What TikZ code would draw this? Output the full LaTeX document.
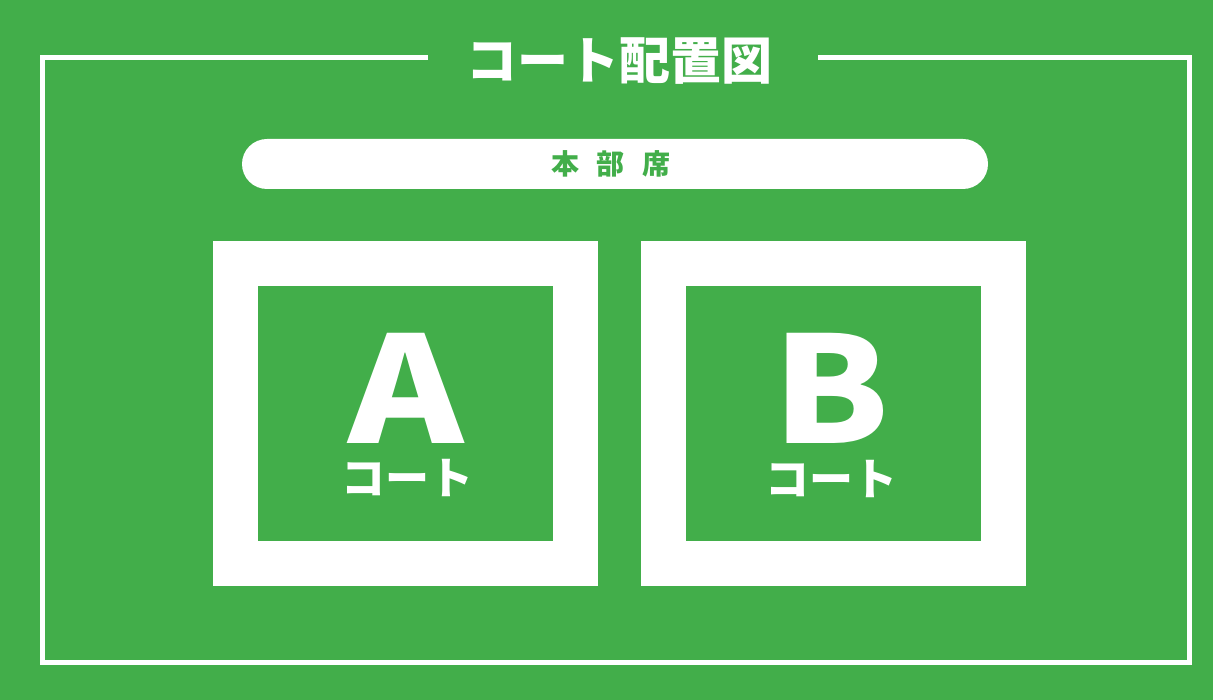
\documentclass[tikz,border=0pt]{standalone}
\usepackage{fontspec}
\newfontfamily\jp{Noto Sans CJK JP Black}
\definecolor{turf}{HTML}{42AE4A}
\begin{document}
\begin{tikzpicture}[x=1pt,y=-1pt]
\tikzset{
  frameline/.style={draw=white,line width=5pt},
  courtouter/.style={fill=white,minimum width=385pt,minimum height=345pt,inner sep=0pt,outer sep=0pt},
  courtinner/.style={fill=turf,minimum width=295pt,minimum height=254pt,inner sep=0pt,outer sep=0pt},
  bigletter/.style={text=white,font=\jp\fontsize{148}{148}\selectfont,inner sep=0pt,anchor=base,text height=0.74em,text depth=0pt},
  courtlabel/.style={text=white,font=\jp\fontsize{44}{44}\selectfont,inner sep=0pt,anchor=base,text height=0.8em,text depth=0.06em},
}
\fill[turf] (0,0) rectangle (1213,700);
\useasboundingbox (0,0) rectangle (1213,700);
% frame
\coordinate (tl) at (428,57.5);
\coordinate (tr) at (818,57.5);
\draw[frameline] (tl) -- (42.5,57.5) -- (42.5,662) -- (1189.5,662) -- (1189.5,57.5) -- (tr);
\node[text=white,font=\jp\fontsize{51}{51}\selectfont,inner sep=0pt] (title) at (619,61) {コート配置図};
% headquarters bar
\node[fill=white,rounded corners=25pt,minimum width=746pt,minimum height=50pt,inner sep=0pt] (hq) at (615,164) {};
\node[text=turf,font=\jp\fontsize{28}{28}\selectfont,inner sep=0pt] (hqlabel) at (611,164) {本\hspace{18pt}部\hspace{18pt}席};
% courts
\node[courtouter] (courtA) at (405.5,413.5) {};
\node[courtinner] (innerA) at (courtA) {};
\node[bigletter] (letterA) at (406.5,443) {\scalebox{1.18}[1]{A}};
\node[courtlabel] (labelA) at (407,494.5) {コート};
\node[courtouter] (courtB) at (833,413.5) {};
\node[courtinner] (innerB) at (courtB) {};
\node[bigletter] (letterB) at (831.5,443) {\scalebox{1.14}[1]{B}};
\node[courtlabel] (labelB) at (831,495.5) {コート};
\end{tikzpicture}
\end{document}
